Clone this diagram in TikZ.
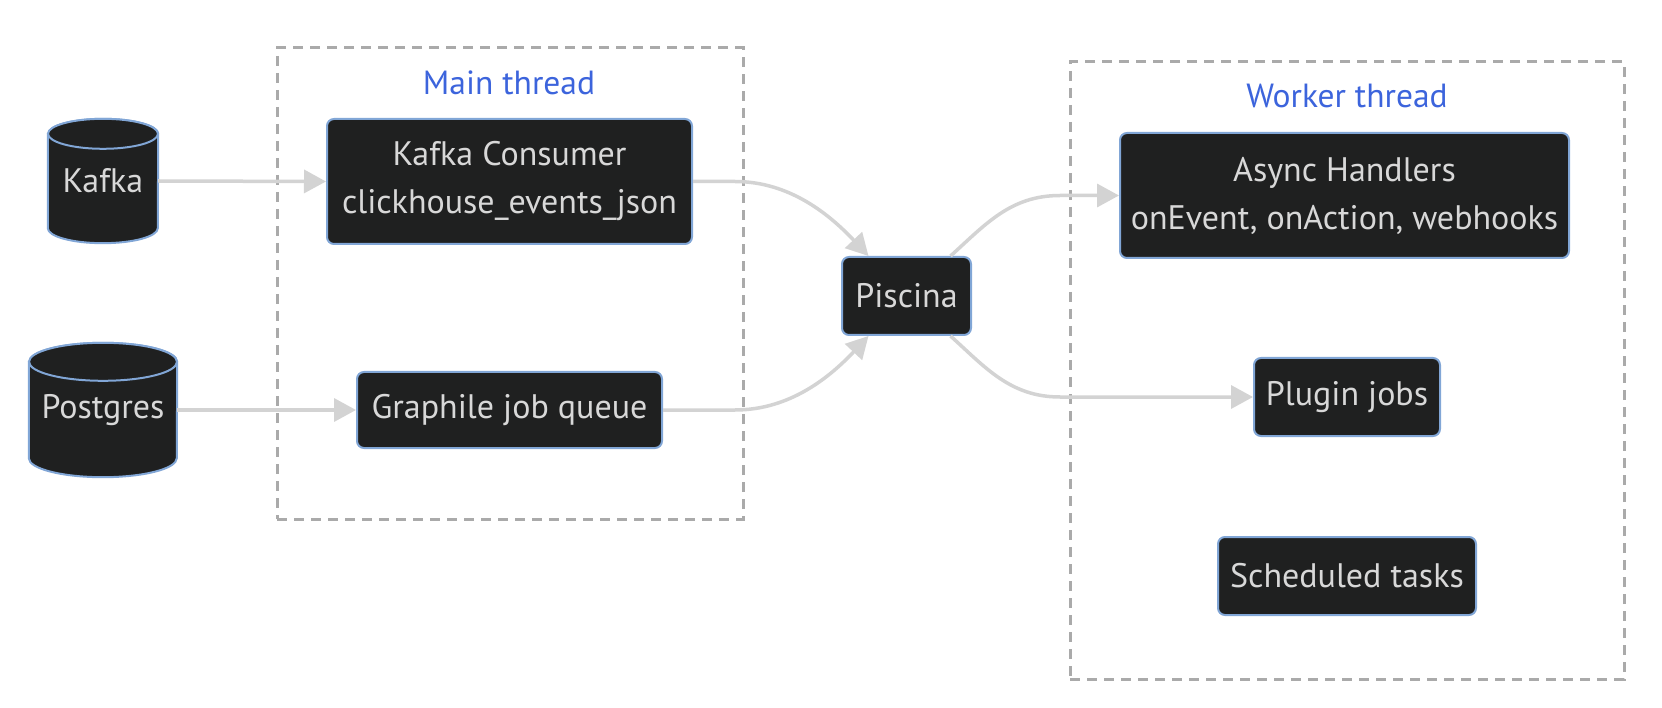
\documentclass[tikz,border=0pt]{standalone}
\usepackage{fontspec}
\setmainfont{PT Sans}
\usetikzlibrary{arrows.meta,backgrounds}
\definecolor{nodefill}{HTML}{1F2020}
\definecolor{nodeborder}{HTML}{81A6D6}
\definecolor{nodetext}{HTML}{D8D8D8}
\definecolor{edgecol}{HTML}{D3D3D3}
\definecolor{clustercol}{HTML}{AAAAAA}
\definecolor{titlecol}{HTML}{3C64DC}
\begin{document}
\begin{tikzpicture}[x=1pt,y=-1pt,
  box/.style={draw=nodeborder, line width=2pt, fill=nodefill, rounded corners=7pt,
    text=nodetext, font=\fontsize{34}{48}\selectfont, align=center, inner sep=0pt},
  dbnode/.style={inner sep=0pt, text=nodetext, font=\fontsize{34}{48}\selectfont},
  cylbody/.style={draw=nodeborder, line width=2pt, fill=nodefill},
  cluster/.style={draw=clustercol, line width=3pt, dash pattern=on 10pt off 7pt, inner sep=0pt},
  titlelbl/.style={text=titlecol, font=\fontsize{33.5}{40}\selectfont, inner sep=0pt},
  edge/.style={draw=edgecol, line width=3.5pt, -{Triangle[length=22pt,width=23pt]}}]
\useasboundingbox (0,0) rectangle (1662,708);

% clusters
\node[cluster, minimum width=466pt, minimum height=471pt] (maincl) at (510,283.5) {};
\node[cluster, minimum width=554pt, minimum height=617pt] (workcl) at (1347,370.5) {};
\node[titlelbl] (maint) at (509,83) {Main thread};
\node[titlelbl] (workt) at (1347,96) {Worker thread};

% databases
\node[dbnode, minimum width=110pt, minimum height=124pt] (kafka) at (103,181) {Kafka};
\node[dbnode, minimum width=148pt, minimum height=134pt] (pg) at (103,410) {Postgres};
\begin{scope}[on background layer]
  \path[cylbody] ([yshift=-15pt]kafka.north west) -- ([yshift=15pt]kafka.south west)
    arc[start angle=180, end angle=360, x radius=55pt, y radius=15pt]
    -- ([yshift=-15pt]kafka.north east)
    arc[start angle=0, end angle=180, x radius=55pt, y radius=15pt] -- cycle;
  \draw[cylbody] ([yshift=-15pt]kafka.north) ellipse[x radius=55pt, y radius=15pt];
  \path[cylbody] ([yshift=-19pt]pg.north west) -- ([yshift=19pt]pg.south west)
    arc[start angle=180, end angle=360, x radius=74pt, y radius=19pt]
    -- ([yshift=-19pt]pg.north east)
    arc[start angle=0, end angle=180, x radius=74pt, y radius=19pt] -- cycle;
  \draw[cylbody] ([yshift=-19pt]pg.north) ellipse[x radius=74pt, y radius=19pt];
\end{scope}

% process nodes
\node[box, minimum width=365pt, minimum height=125pt] (kc) at (509.5,181.5) {Kafka Consumer\\clickhouse\_events\_json};
\node[box, minimum width=305pt, minimum height=76pt] (gq) at (509.5,410) {Graphile job queue};
\node[box, minimum width=129pt, minimum height=78pt] (pisc) at (906.5,296) {Piscina};
\node[box, minimum width=449pt, minimum height=125pt] (async) at (1344.5,195.5) {Async Handlers\\onEvent, onAction, webhooks};
\node[box, minimum width=186pt, minimum height=78pt] (plugin) at (1347,397) {Plugin jobs};
\node[box, minimum width=258pt, minimum height=78pt] (sched) at (1347,576) {Scheduled tasks};

% edges
\draw[edge] (kafka.east) -- (kc.west);
\draw[edge] (pg.east) -- (gq.west);
\draw[edge] (kc.east) -- (735,181.5) .. controls (790,181.5) and (830,215) .. ([xshift=-38pt]pisc.north);
\draw[edge] (gq.east) -- (735,410) .. controls (790,410) and (830,377) .. ([xshift=-38pt]pisc.south);
\draw[edge] ([xshift=44pt]pisc.north) .. controls (985,225) and (1010,195.5) .. (1060,195.5) -- (async.west);
\draw[edge] ([xshift=44pt]pisc.south) .. controls (985,367) and (1010,397) .. (1060,397) -- (plugin.west);
\end{tikzpicture}
\end{document}
